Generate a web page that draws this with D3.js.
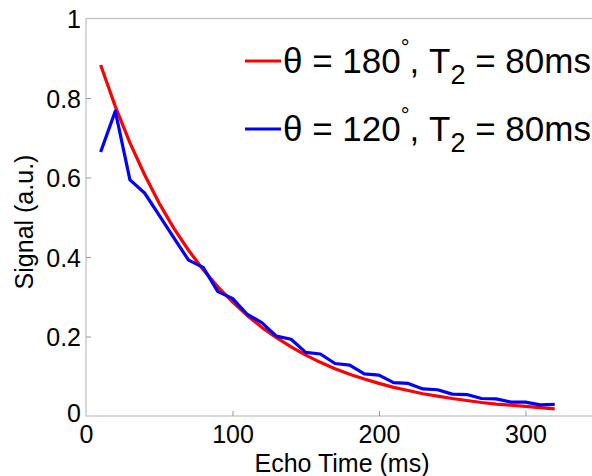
<!DOCTYPE html>
<html>
<head>
<meta charset="utf-8">
<script src="https://cdn.jsdelivr.net/npm/d3@7"></script>
<style>
  body { margin: 0; background: #fff; }
  svg { font-family: Arial, "Liberation Sans", sans-serif; }
</style>
</head>
<body>
<svg id="chart" width="592" height="476"></svg>
<script>
// echo times (ms)
const echoTimes = [10, 20, 30, 40, 50, 60, 70, 80, 90, 100, 110, 120, 130, 140, 150, 160,
  170, 180, 190, 200, 210, 220, 230, 240, 250, 260, 270, 280, 290, 300, 310, 320];

// theta = 180
const signal180 = [0.883, 0.779, 0.687, 0.607, 0.535, 0.472, 0.417, 0.368, 0.325, 0.287,
  0.253, 0.223, 0.197, 0.174, 0.153, 0.135, 0.119, 0.105, 0.093, 0.082, 0.072, 0.064,
  0.056, 0.050, 0.044, 0.039, 0.034, 0.030, 0.027, 0.024, 0.021, 0.018];

// theta = 120
const signal120 = [0.664, 0.767, 0.594, 0.561, 0.505, 0.448, 0.392, 0.374, 0.313, 0.296,
  0.256, 0.235, 0.201, 0.193, 0.160, 0.156, 0.132, 0.128, 0.106, 0.103, 0.084, 0.082,
  0.068, 0.066, 0.055, 0.054, 0.044, 0.043, 0.035, 0.035, 0.028, 0.029];

const xTicks = [0, 100, 200, 300];
const yTicks = [0, 0.2, 0.4, 0.6, 0.8, 1];

const svg = d3.select("#chart");
const plotLeft = 86, plotTop = 18.5, plotBottom = 416;

const x = d3.scaleLinear().domain([0, 350]).range([plotLeft, plotLeft + 512.7]);
const y = d3.scaleLinear().domain([0, 1]).range([plotBottom, plotTop]);

const axisColor = "#c4c4c4";

// box
svg.append("rect")
    .attr("x", x(0)).attr("y", y(1))
    .attr("width", x(350) - x(0)).attr("height", y(0) - y(1))
    .attr("fill", "none").attr("stroke", axisColor).attr("stroke-width", 1.3);

// x axis (ticks inside)
const xAxis = svg.append("g")
    .attr("transform", `translate(0,${plotBottom})`)
    .call(d3.axisBottom(x).tickValues(xTicks).tickSizeInner(-5).tickSizeOuter(0)
      .tickFormat(d3.format("d")));
xAxis.select(".domain").remove();
xAxis.selectAll(".tick line").attr("stroke", "#999").attr("stroke-width", 1);
xAxis.selectAll(".tick text").attr("font-size", 25).attr("fill", "#000")
    .attr("y", 27).attr("dy", null);
xAxis.selectAll(".tick").filter(d => d === 0).select("line").remove();

// y axis
const yAxis = svg.append("g")
    .attr("transform", `translate(${plotLeft},0)`)
    .call(d3.axisLeft(y).tickValues(yTicks).tickSizeInner(-5).tickSizeOuter(0).tickPadding(5)
      .tickFormat(d => d === 0 || d === 1 ? d3.format("d")(d) : d3.format(".1f")(d)));
yAxis.select(".domain").remove();
yAxis.selectAll(".tick line").attr("stroke", "#999").attr("stroke-width", 1);
yAxis.selectAll(".tick text").attr("font-size", 25).attr("fill", "#000").attr("dy", "0.36em");
yAxis.selectAll(".tick").filter(d => d === 0 || d === 1).select("line").remove();
yAxis.selectAll(".tick").filter(d => d === 0).select("text").attr("dy", "0.2em");

// axis labels
svg.append("text")
    .attr("x", 342).attr("y", 472)
    .attr("text-anchor", "middle").attr("font-size", 25)
    .text("Echo Time (ms)");

svg.append("text")
    .attr("transform", "translate(33,222) rotate(-90)")
    .attr("text-anchor", "middle").attr("font-size", 25)
    .text("Signal (a.u.)");

// lines
const line = d3.line().x((d, i) => x(echoTimes[i])).y(d => y(d));

svg.append("path")
    .datum(signal180)
    .attr("d", line)
    .attr("fill", "none").attr("stroke", "#ff0000").attr("stroke-width", 3.2)
    .attr("stroke-linejoin", "round");

svg.append("path")
    .datum(signal120)
    .attr("d", line)
    .attr("fill", "none").attr("stroke", "#0000ff").attr("stroke-width", 3.2)
    .attr("stroke-linejoin", "round");

// legend
const legend = [
  { color: "#ff0000", angle: "180", y: 61 },
  { color: "#0000ff", angle: "120", y: 129 }
];

legend.forEach(d => {
  svg.append("line")
      .attr("x1", 245).attr("x2", 281).attr("y1", d.y).attr("y2", d.y)
      .attr("stroke", d.color).attr("stroke-width", 3.2);
  const t = svg.append("text")
      .attr("x", 283).attr("y", d.y + 12)
      .attr("font-size", 35).attr("fill", "#000");
  t.append("tspan").text("θ = " + d.angle);
  t.append("tspan").attr("dy", -18).attr("font-size", 22).text("°");
  t.append("tspan").attr("dy", 18).text(", T");
  t.append("tspan").attr("dy", 11).attr("font-size", 27).text("2");
  t.append("tspan").attr("dy", -11).text(" = 80ms");
});
</script>
</body>
</html>
